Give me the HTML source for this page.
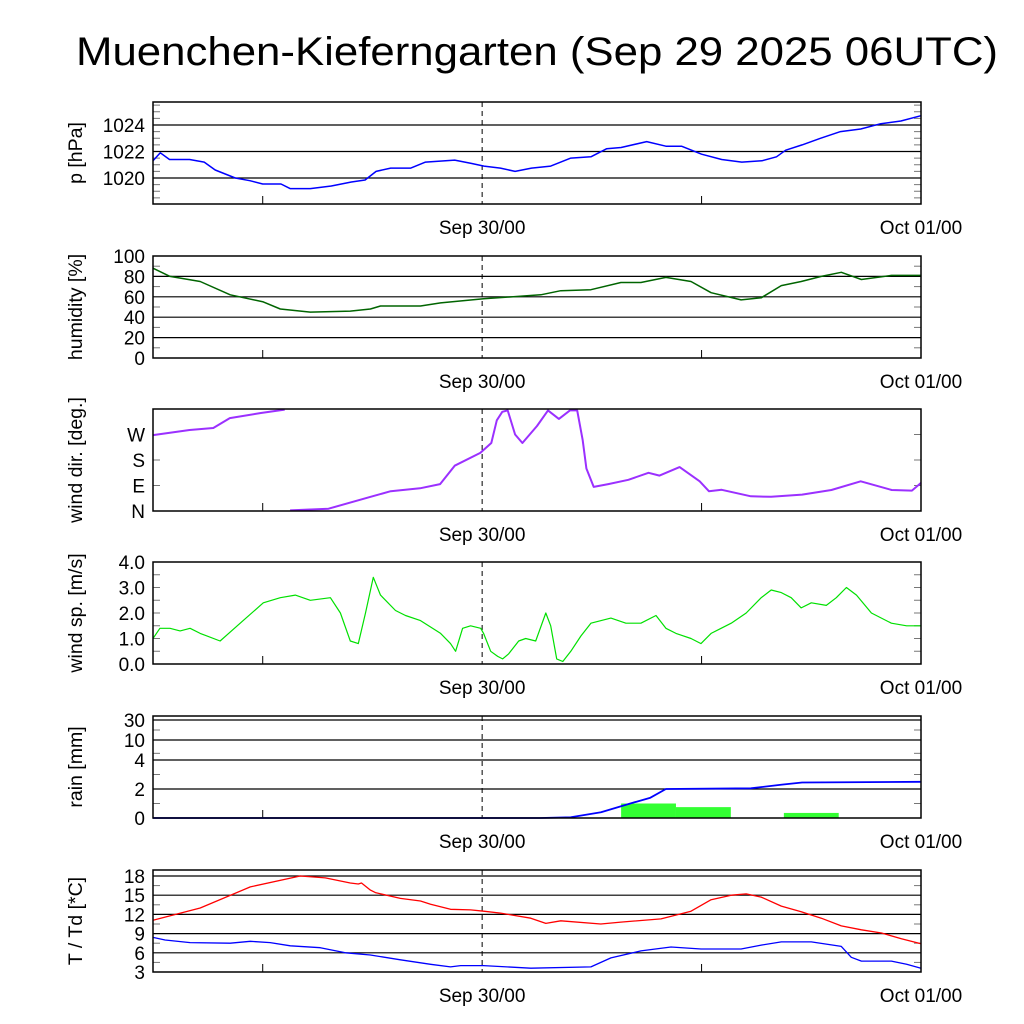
<!DOCTYPE html>
<html><head><meta charset="utf-8"><style>
html,body{margin:0;padding:0;background:#fff}
svg{display:block}
text{font-family:"Liberation Sans",sans-serif;fill:#000}
</style></head><body>
<svg id="chart" width="1024" height="1024" viewBox="0 0 1024 1024">
<text x="537" y="65" font-size="40" text-anchor="middle" textLength="922" lengthAdjust="spacingAndGlyphs">Muenchen-Kieferngarten (Sep 29 2025 06UTC)</text>
<g id="plots"></g>
</svg>
<script>
// time in hours since Sep 29 06UTC
const xTickLabels = ["Sep 30/00","Oct 01/00"];
const xTickHours = [18,42];
const pTime = [0,0.4,0.9,2.0,2.8,3.4,4.5,5.3,6.0,7.0,7.5,8.6,9.75,10.85,11.6,12.2,13.0,14.1,14.9,16.5,17.4,18.1,19.0,19.8,20.7,21.75,22.85,23.95,24.8,25.6,27.0,28.05,28.9,30.0,31.1,32.2,33.3,34.1,34.6,35.5,36.5,37.6,38.7,39.8,40.9,42];
const pVal = [1021.3,1021.9,1021.4,1021.4,1021.2,1020.6,1020.0,1019.8,1019.55,1019.55,1019.2,1019.2,1019.4,1019.7,1019.85,1020.5,1020.75,1020.75,1021.2,1021.35,1021.1,1020.9,1020.75,1020.5,1020.75,1020.9,1021.5,1021.6,1022.2,1022.3,1022.75,1022.4,1022.4,1021.8,1021.4,1021.2,1021.3,1021.6,1022.1,1022.5,1023.0,1023.5,1023.7,1024.1,1024.3,1024.7];
const hTime = [0,0.93,2.58,4.22,6.03,6.96,8.6,10.79,11.89,12.44,14.63,15.73,18.08,21.21,22.3,23.95,25.59,26.68,28.05,29.42,30.52,32.16,33.26,34.36,35.45,36.55,37.64,38.74,40.38,42];
const hVal = [88,80,75,62,55,48,45,46,48,51,51,54,58,62,66,67,74,74,79,75,64,57,59,71,75,80,84,77,81,81];
const dTime = [0,2,3.3,4.2,5.9,7.2,7.5,9.6,11.9,13.0,14.6,15.7,16.5,17.9,18.5,18.8,19.1,19.4,19.8,20.2,21.0,21.6,22.2,22.8,23.2,23.5,23.7,24.1,24.9,26.0,27.1,27.7,28.8,29.9,30.4,31.1,32.7,33.8,35.5,37.1,38.7,40.4,41.5,42];
const dVal = [268,286,293,328,346,358,2,8,50,70,80,95,160,205,240,320,350,355,270,240,300,355,325,355,355,250,150,85,95,110,135,125,155,105,70,75,52,50,58,74,105,74,72,99];
const sTime = [0,.38,.93,1.48,2.03,2.58,3.67,4.77,6.03,6.96,7.78,8.6,9.7,10.25,10.79,11.23,11.62,12.05,12.44,13.26,13.81,14.63,15.73,16.27,16.55,16.93,17.37,17.92,18.08,18.47,18.85,19.12,19.45,20,20.38,20.93,21.48,21.75,22.08,22.41,22.85,23.4,23.95,25.04,25.86,26.68,27.51,28.05,28.6,29.42,29.97,30.52,31.07,31.62,32.44,33.26,33.81,34.36,34.9,35.45,36,36.82,37.37,37.92,38.47,39.29,40.38,41.21,42];
const sVal = [1.0,1.4,1.4,1.3,1.4,1.2,0.9,1.6,2.4,2.6,2.7,2.5,2.6,2.0,0.9,0.8,2.0,3.4,2.7,2.1,1.9,1.7,1.2,0.8,0.5,1.4,1.5,1.4,1.2,0.5,0.3,0.2,0.4,0.9,1.0,0.9,2.0,1.5,0.2,0.1,0.5,1.1,1.6,1.8,1.6,1.6,1.9,1.4,1.2,1.0,0.8,1.2,1.4,1.6,2.0,2.6,2.9,2.8,2.6,2.2,2.4,2.3,2.6,3.0,2.7,2.0,1.6,1.5,1.5];
const rainBarStart = [25.6,28.6,34.5];
const rainBarEnd = [28.6,31.6,37.5];
const rainBarVal = [1.0,0.75,0.35];
const rainSumTime = [0,21.2,22.85,24.5,26.1,27.2,28.05,32.7,34.4,35.5,42];
const rainSumVal = [0,0,0.05,0.4,1.0,1.4,2.0,2.05,2.3,2.45,2.5];
const tTime = [0,2.58,5.32,8.05,9.42,10.79,11.23,11.4,11.89,12.16,13.53,14.63,15.18,16.27,17.37,18.08,19.01,20.66,21.48,22.3,24.49,25.59,27.78,29.42,30.52,31.62,32.44,33.26,34.36,35.45,36.55,37.64,38.74,39.84,40.93,42];
const tVal = [11.1,13.0,16.3,18.0,17.7,16.9,16.75,16.9,15.8,15.4,14.5,14.1,13.6,12.8,12.7,12.5,12.2,11.4,10.6,11.0,10.5,10.8,11.3,12.5,14.3,15.0,15.2,14.7,13.3,12.4,11.4,10.2,9.6,9.1,8.2,7.4];
const tdTime = [0,0.66,2.03,4.22,5.32,6.41,7.51,9.15,10.52,11.89,13.53,15.18,16.27,16.82,18.08,20.66,23.95,25.04,26.68,28.33,29.97,32.16,33.26,34.36,36,37.64,38.19,38.74,40.38,41.21,42];
const tdVal = [8.4,8.0,7.6,7.5,7.8,7.6,7.1,6.8,6.0,5.65,4.9,4.2,3.8,4.0,4.0,3.6,3.8,5.2,6.3,6.9,6.6,6.6,7.2,7.7,7.7,7.0,5.3,4.7,4.7,4.2,3.6];

const NS="http://www.w3.org/2000/svg";
const L=153,R=921,T0=0,T1=42;
const X=t=>L+(t-T0)/(T1-T0)*(R-L);
const root=document.getElementById('plots');
function mk(tag,attrs,parent){const e=document.createElementNS(NS,tag);for(const k in attrs)e.setAttribute(k,attrs[k]);(parent||root).appendChild(e);return e;}
function lin(v0,v1,top,bot){return v=>bot-(v-v0)/(v1-v0)*(bot-top);}
function pw(vs,ys){return v=>{if(v<=vs[0])return ys[0];for(let i=1;i<vs.length;i++){if(v<=vs[i])return ys[i-1]+(v-vs[i-1])/(vs[i]-vs[i-1])*(ys[i]-ys[i-1]);}return ys[ys.length-1];};}

const panels=[
 {name:'pressure',top:102,bot:204,Y:lin(1020,1024,125,178),title:'p [hPa]',labels:[[1020,'1020'],[1022,'1022'],[1024,'1024']],grid:[1020,1022,1024],minor:[1018.5,1019,1019.5,1020.5,1021,1021.5,1022.5,1023,1023.5,1024.5,1025,1025.5]},
 {name:'humidity',top:256,bot:358,Y:lin(0,100,256,358),title:'humidity [%]',labels:[[0,'0'],[20,'20'],[40,'40'],[60,'60'],[80,'80'],[100,'100']],grid:[20,40,60,80],minor:[10,30,50,70,90]},
 {name:'wind-direction',top:409,bot:511,Y:lin(0,360,409,511),title:'wind dir. [deg.]',labels:[[0,'N'],[90,'E'],[180,'S'],[270,'W']],grid:[],minor:[90,180,270]},
 {name:'wind-speed',top:562,bot:664,Y:lin(0,4,562,664),title:'wind sp. [m/s]',labels:[[0,'0.0'],[1,'1.0'],[2,'2.0'],[3,'3.0'],[4,'4.0']],grid:[],minor:[0.5,1,1.5,2,2.5,3,3.5]},
 {name:'rain',top:716,bot:818,Y:pw([0,2,4,10,30,40],[818,789,760,740,720,716]),title:'rain [mm]',labels:[[0,'0'],[2,'2'],[4,'4'],[10,'10'],[30,'30']],grid:[2,4,10,30],minor:[1,3,6,20]},
 {name:'temperature',top:870,bot:972,Y:lin(3,18,876,972),title:'T / Td [*C]',labels:[[3,'3'],[6,'6'],[9,'9'],[12,'12'],[15,'15'],[18,'18']],grid:[6,9,12,15,18],minor:[4.5,7.5,10.5,13.5,16.5]}
];
const P={};
panels.forEach(p=>{
 P[p.name]=p;
 const g=mk('g',{});
 
 
 p.g=g;
 p.grid.forEach(v=>{const l=mk('line',{x1:L,x2:R,y1:p.Y(v),y2:p.Y(v),stroke:'#000','stroke-width':1.2},g);
  });
 p.minor.forEach(v=>{mk('line',{x1:L,x2:L+7,y1:p.Y(v),y2:p.Y(v),stroke:'#777','stroke-width':1},g);mk('line',{x1:R-7,x2:R,y1:p.Y(v),y2:p.Y(v),stroke:'#777','stroke-width':1},g);});
 [6,30].forEach(h=>mk('line',{x1:X(h),x2:X(h),y1:p.bot,y2:p.bot-8,stroke:'#000','stroke-width':1},g));
 const dl=mk('line',{x1:X(18),x2:X(18),y1:p.top,y2:p.bot,stroke:'#000','stroke-width':1,'stroke-dasharray':'5,4'},g);
 
 p.labels.forEach(([v,s])=>{const t=mk('text',{x:145,y:p.Y(v)+7,'font-size':19,'text-anchor':'end'},g);t.textContent=s;
  });
 const cy=(p.top+p.bot)/2;
 const tt=mk('text',{x:0,y:0,'font-size':19.5,'text-anchor':'middle',transform:`translate(82,${cy}) rotate(-90)`},g);tt.textContent=p.title;
 
 xTickHours.forEach((h,i)=>{const t=mk('text',{x:X(h),y:p.bot+30,'font-size':19,'text-anchor':'middle'},g);t.textContent=xTickLabels[i];
  });
});
function line(p,ts,vs,color,w,name){
 const pts=ts.map((t,i)=>X(t).toFixed(1)+','+p.Y(vs[i]).toFixed(1)).join(' ');
 const e=mk('polyline',{points:pts,fill:'none',stroke:color,'stroke-width':w,'stroke-linejoin':'round'},p.g);
 return e;
}
line(P.pressure,pTime,pVal,'#0000ff',1.5,'pressure-line');
line(P.humidity,hTime,hVal,'#006400',1.5,'humidity-line');
(function(){const p=P['wind-direction'];let segT=[dTime[0]],segV=[dVal[0]];
 for(let i=1;i<dTime.length;i++){
  if(Math.abs(dVal[i]-dVal[i-1])>250){line(p,segT,segV,'#9b30ff',2,'wind-direction-line');segT=[];segV=[];}
  segT.push(dTime[i]);segV.push(dVal[i]);}
 line(p,segT,segV,'#9b30ff',2,'wind-direction-line');})();
line(P['wind-speed'],sTime,sVal,'#00e000',1.2,'wind-speed-line');
rainBarVal.forEach((v,i)=>{const p=P.rain;const r=mk('rect',{x:X(rainBarStart[i]),y:p.Y(v),width:X(rainBarEnd[i])-X(rainBarStart[i]),height:p.bot-p.Y(v),fill:'#33ff33'},p.g);
 });
line(P.rain,rainSumTime,rainSumVal,'#0000ff',1.8,'rain-sum-line');
line(P.temperature,tTime,tVal,'#ff0000',1.3,'temperature-line');
line(P.temperature,tdTime,tdVal,'#0000ff',1.3,'dewpoint-line');
panels.forEach(p=>{const f=mk('rect',{x:L,y:p.top,width:R-L,height:p.bot-p.top,fill:'none',stroke:'#000','stroke-width':1.5},p.g);
 });
</script>
</body></html>
